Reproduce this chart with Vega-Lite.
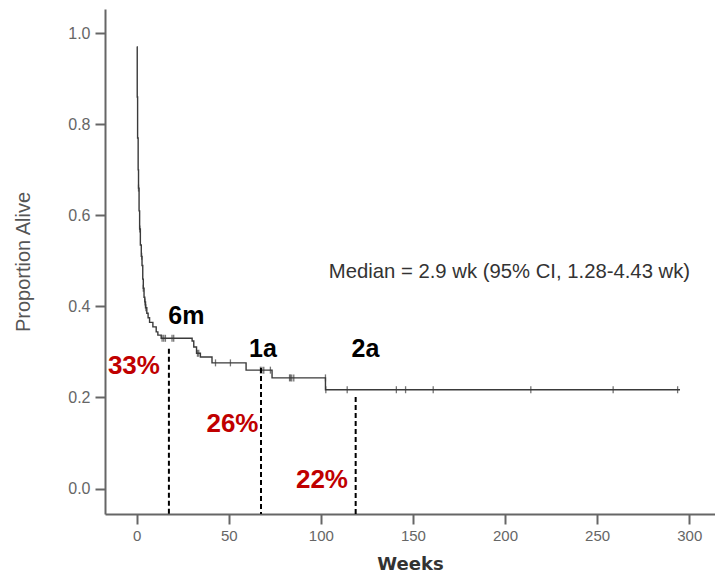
{
  "$schema": "https://vega.github.io/schema/vega-lite/v6.json",
  "width": 610,
  "height": 505,
  "autosize": {"type": "none"},
  "padding": {"left": 105, "top": 9, "right": 0, "bottom": 63},
  "background": "white",
  "config": {
    "view": {"stroke": null},
    "axis": {"grid": false}
  },
  "datasets": {
    "survival": [
      {"week": 0, "surv": 0.97},
      {"week": 0.3, "surv": 0.86},
      {"week": 0.5, "surv": 0.77},
      {"week": 0.8, "surv": 0.7},
      {"week": 1.0, "surv": 0.66},
      {"week": 1.3, "surv": 0.61},
      {"week": 1.6, "surv": 0.57},
      {"week": 2.0, "surv": 0.535},
      {"week": 2.5, "surv": 0.51},
      {"week": 2.9, "surv": 0.49},
      {"week": 3.3, "surv": 0.46},
      {"week": 3.6, "surv": 0.44},
      {"week": 4.0, "surv": 0.42},
      {"week": 4.4, "surv": 0.41},
      {"week": 4.8, "surv": 0.397},
      {"week": 5.5, "surv": 0.385},
      {"week": 6.2, "surv": 0.375},
      {"week": 7.0, "surv": 0.365},
      {"week": 8.8, "surv": 0.355},
      {"week": 10.6, "surv": 0.344},
      {"week": 11.5, "surv": 0.337},
      {"week": 13.3, "surv": 0.33},
      {"week": 30.1, "surv": 0.324},
      {"week": 31.0, "surv": 0.311},
      {"week": 32.5, "surv": 0.297},
      {"week": 34.6, "surv": 0.289},
      {"week": 40.9, "surv": 0.276},
      {"week": 59.4, "surv": 0.26},
      {"week": 73.5, "surv": 0.243},
      {"week": 102.5, "surv": 0.217},
      {"week": 295, "surv": 0.217}
    ],
    "censored": [
      {"week": 1.0, "surv": 0.66},
      {"week": 1.7, "surv": 0.57},
      {"week": 2.7, "surv": 0.51},
      {"week": 3.6, "surv": 0.44},
      {"week": 4.5, "surv": 0.41},
      {"week": 5.0, "surv": 0.397},
      {"week": 13.8, "surv": 0.33},
      {"week": 14.7, "surv": 0.33},
      {"week": 15.6, "surv": 0.33},
      {"week": 19.2, "surv": 0.33},
      {"week": 20.1, "surv": 0.33},
      {"week": 33.0, "surv": 0.297},
      {"week": 33.7, "surv": 0.297},
      {"week": 42.8, "surv": 0.276},
      {"week": 50.9, "surv": 0.276},
      {"week": 67.2, "surv": 0.26},
      {"week": 68.0, "surv": 0.26},
      {"week": 69.0, "surv": 0.26},
      {"week": 72.6, "surv": 0.26},
      {"week": 83.0, "surv": 0.243},
      {"week": 83.5, "surv": 0.243},
      {"week": 84.2, "surv": 0.243},
      {"week": 85.3, "surv": 0.243},
      {"week": 102.5, "surv": 0.243},
      {"week": 102.7, "surv": 0.217},
      {"week": 114.3, "surv": 0.217},
      {"week": 141, "surv": 0.217},
      {"week": 146, "surv": 0.217},
      {"week": 161, "surv": 0.217},
      {"week": 214, "surv": 0.217},
      {"week": 258.7, "surv": 0.217},
      {"week": 293.7, "surv": 0.217}
    ],
    "landmarks": [
      {"mark": "6m", "week": 17.5, "surv": 0.307},
      {"mark": "1a", "week": 67.5, "surv": 0.265},
      {"mark": "2a", "week": 118.9, "surv": 0.201}
    ],
    "periodLabels": [
      {"text": "6m", "week": 27.0, "surv": 0.378},
      {"text": "1a", "week": 68.6, "surv": 0.307},
      {"text": "2a", "week": 124.2, "surv": 0.307}
    ],
    "rateLabels": [
      {"text": "33%", "week": -1.5, "surv": 0.27},
      {"text": "26%", "week": 52.0, "surv": 0.141},
      {"text": "22%", "week": 100.6, "surv": 0.018}
    ],
    "note": [
      {"text": "Median = 2.9 wk (95% CI, 1.28-4.43 wk)", "week": 202.4, "surv": 0.476}
    ]
  },
  "layer": [
    {
      "data": {"name": "survival"},
      "mark": {"type": "line", "interpolate": "step-after", "color": "#3a3a3a", "strokeWidth": 1.4},
      "encoding": {
        "x": {
          "field": "week", "type": "quantitative",
          "scale": {"domain": [-17.2, 314], "nice": false, "zero": false},
          "axis": {
            "orient": "bottom",
            "values": [0, 50, 100, 150, 200, 250, 300],
            "title": "Weeks",
            "titleFont": "DejaVu Sans", "titleFontWeight": "bold", "titleFontSize": 18, "titleColor": "#333333",
            "titlePadding": 12,
            "labelFont": "Liberation Sans", "labelFontSize": 15, "labelColor": "#666666", "labelPadding": 4,
            "tickSize": 10, "tickWidth": 2, "tickColor": "#666666",
            "domainColor": "#666666", "domainWidth": 2
          }
        },
        "y": {
          "field": "surv", "type": "quantitative",
          "scale": {"domain": [-0.056, 1.0534], "nice": false, "zero": false},
          "axis": {
            "values": [0, 0.2, 0.4, 0.6, 0.8, 1.0],
            "format": ".1f",
            "title": "Proportion Alive",
            "titleFont": "Liberation Sans", "titleFontWeight": "normal", "titleFontSize": 20, "titleColor": "#555555",
            "titlePadding": 34,
            "labelFont": "Liberation Sans", "labelFontSize": 16, "labelColor": "#666666", "labelPadding": 5,
            "tickSize": 10, "tickWidth": 2, "tickColor": "#666666",
            "domainColor": "#666666", "domainWidth": 2
          }
        }
      }
    },
    {
      "mark": {"type": "rule", "color": "#aaaaaa", "strokeWidth": 2},
      "encoding": {
        "y": {"datum": 1.0534}
      }
    },
    {
      "data": {"name": "censored"},
      "mark": {"type": "tick", "orient": "vertical", "color": "#3a3a3a", "size": 7, "thickness": 1.3},
      "encoding": {
        "x": {"field": "week", "type": "quantitative"},
        "y": {"field": "surv", "type": "quantitative"}
      }
    },
    {
      "data": {"name": "landmarks"},
      "mark": {"type": "rule", "color": "#000000", "strokeWidth": 2, "strokeDash": [5, 3]},
      "encoding": {
        "x": {"field": "week", "type": "quantitative"},
        "y": {"field": "surv", "type": "quantitative"},
        "y2": {"datum": -0.056}
      }
    },
    {
      "data": {"name": "periodLabels"},
      "mark": {"type": "text", "font": "Liberation Sans", "fontWeight": "bold", "fontSize": 25, "color": "#000000", "align": "center", "baseline": "middle"},
      "encoding": {
        "x": {"field": "week", "type": "quantitative"},
        "y": {"field": "surv", "type": "quantitative"},
        "text": {"field": "text"}
      }
    },
    {
      "data": {"name": "rateLabels"},
      "mark": {"type": "text", "font": "Liberation Sans", "fontWeight": "bold", "fontSize": 26, "color": "#c00000", "align": "center", "baseline": "middle"},
      "encoding": {
        "x": {"field": "week", "type": "quantitative"},
        "y": {"field": "surv", "type": "quantitative"},
        "text": {"field": "text"}
      }
    },
    {
      "data": {"name": "note"},
      "mark": {"type": "text", "font": "Liberation Sans", "fontSize": 20.3, "color": "#333333", "align": "center", "baseline": "middle"},
      "encoding": {
        "x": {"field": "week", "type": "quantitative"},
        "y": {"field": "surv", "type": "quantitative"},
        "text": {"field": "text"}
      }
    }
  ]
}
